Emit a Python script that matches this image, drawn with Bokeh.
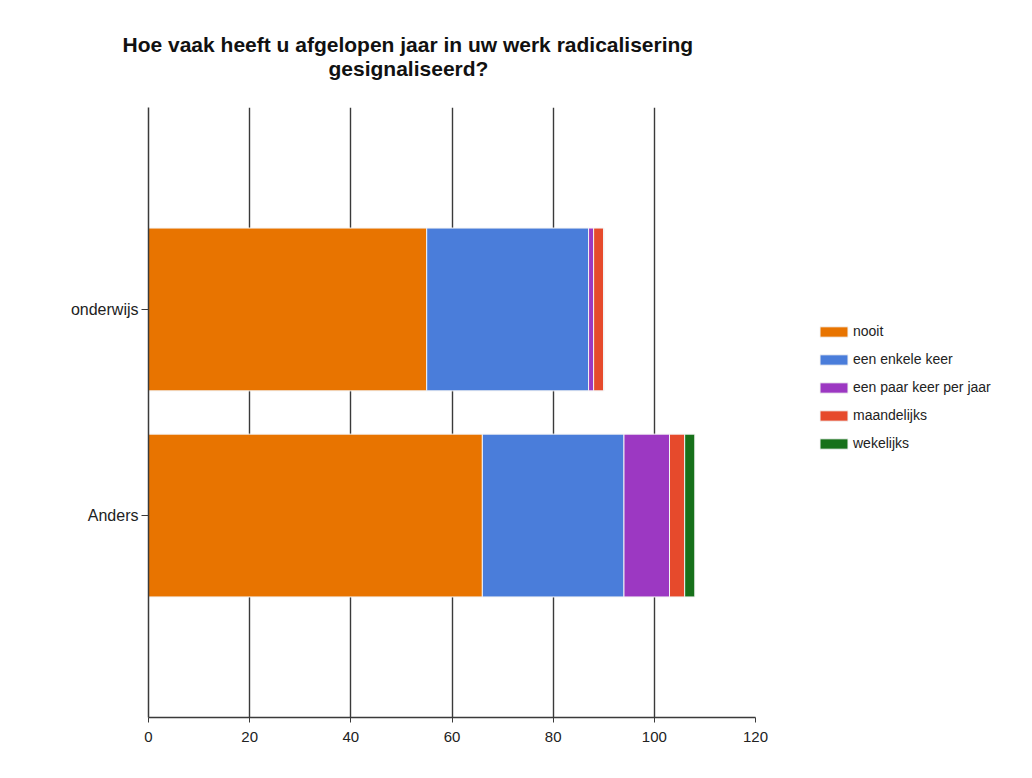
from bokeh.plotting import figure
from bokeh.models import ColumnDataSource, FactorRange, Range1d, FixedTicker, Legend, LegendItem, Title
from bokeh.embed import file_html
from bokeh.resources import INLINE

categories = ["Anders", "onderwijs"]
series = ["nooit", "een enkele keer", "een paar keer per jaar", "maandelijks", "wekelijks"]
nooit = [66, 55]
een_enkele_keer = [28, 32]
een_paar_keer_per_jaar = [9, 1]
maandelijks = [3, 2]
wekelijks = [2, 0]
colors = ["#E87400", "#4A7DDA", "#9C38C2", "#E64A2C", "#17711A"]
x_ticks = [0, 20, 40, 60, 80, 100, 120]
title_lines = ["Hoe vaak heeft u afgelopen jaar in uw werk radicalisering", "gesignaliseerd?"]

source = ColumnDataSource(dict(
    cat=categories,
    s0=nooit, s1=een_enkele_keer, s2=een_paar_keer_per_jaar, s3=maandelijks, s4=wekelijks,
))
keys = ["s0", "s1", "s2", "s3", "s4"]

FONT = "Liberation Sans"
GRID = "#3a3a3a"

p = figure(
    frame_width=607, frame_height=610,
    y_range=FactorRange(*categories, range_padding=0.48, range_padding_units="absolute"),
    x_range=Range1d(0, 120),
    output_backend="svg", toolbar_location=None,
    min_border_left=148, min_border_right=0, min_border_top=107, min_border_bottom=45,
)
p.title = None
p.outline_line_color = None
p.background_fill_color = "white"
p.border_fill_color = "white"

renderers = p.hbar_stack(keys, y="cat", height=0.79, color=colors, source=source,
                         line_color="#f4f4f4", line_width=1)

# axes
p.xaxis.ticker = FixedTicker(ticks=x_ticks)
p.xaxis.axis_line_color = GRID
p.xaxis.axis_line_width = 1.5
p.xaxis.major_tick_line_color = GRID
p.xaxis.major_tick_out = 5
p.xaxis.major_tick_in = 0
p.xaxis.minor_tick_line_color = None
p.xaxis.major_label_text_font = FONT
p.xaxis.major_label_text_font_size = "15px"
p.xaxis.major_label_text_color = "#222222"
p.xaxis.major_label_standoff = 9

p.yaxis.axis_line_color = GRID
p.yaxis.axis_line_width = 1.5
p.yaxis.major_tick_line_color = GRID
p.yaxis.major_tick_out = 7
p.yaxis.major_tick_in = 0
p.yaxis.major_label_text_font = FONT
p.yaxis.major_label_text_font_size = "16px"
p.yaxis.major_label_text_color = "#222222"
p.yaxis.major_label_standoff = 3

p.xgrid.ticker = FixedTicker(ticks=x_ticks)
p.xgrid.grid_line_color = GRID
p.xgrid.grid_line_width = 1.4
p.ygrid.grid_line_color = None

# title (two lines, added nearest-first)
p.add_layout(Title(text=title_lines[1], align="left", offset=180, standoff=55,
                   text_line_height=0.8,
                   text_font=FONT, text_font_size="21px", text_font_style="bold",
                   text_color="#111111"), "above")
p.add_layout(Title(text=title_lines[0], align="left", offset=-26, standoff=-57,
                   text_line_height=0.8,
                   text_font=FONT, text_font_size="21px", text_font_style="bold",
                   text_color="#111111"), "above")

legend = Legend(
    items=[LegendItem(label=s, renderers=[r]) for s, r in zip(series, renderers)],
    location=(61, 264),
    border_line_color=None, background_fill_alpha=0,
    padding=0, margin=0, spacing=8, label_height=20,
    glyph_height=13, glyph_width=35, label_standoff=2,
    label_text_font=FONT, label_text_font_size="14px", label_text_color="#222222",
)
p.add_layout(legend, "right")

open("out.html", "w").write(file_html(p, INLINE))
